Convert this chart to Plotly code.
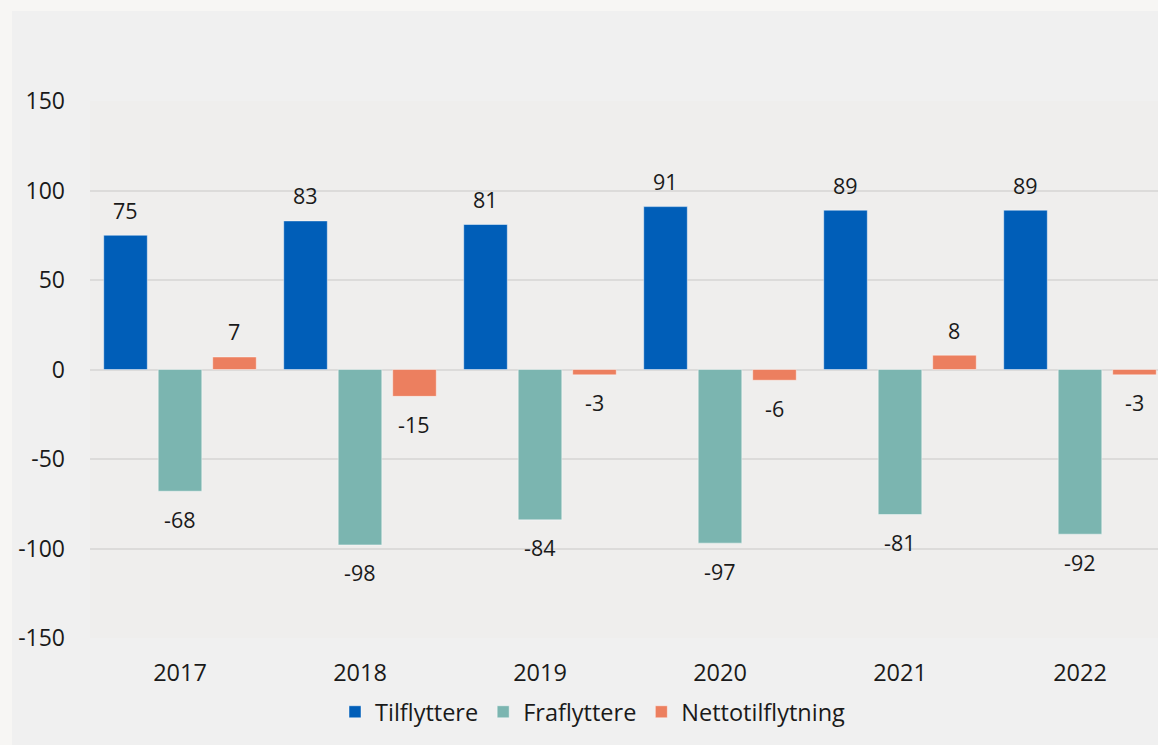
import plotly.graph_objects as go

years = ["2017", "2018", "2019", "2020", "2021", "2022"]
tilflyttere = [75, 83, 81, 91, 89, 89]
fraflyttere = [-68, -98, -84, -97, -81, -92]
netto = [7, -15, -3, -6, 8, -3]
series_names = ["Tilflyttere", "Fraflyttere", "Nettotilflytning"]
colors = ["#005EB8", "#7BB5B0", "#EC7F5F"]
y_ticks = [-150, -100, -50, 0, 50, 100, 150]
y_ticktext = ["-150", "-100", "-50", "0", "50", "100", "150"]

W, H = 1158, 745
L, R, T, B = 90, 0, 101, 107
pw, ph = W - L - R, H - T - B
BARGAP = 0.092
FONT = "Open Sans"
TXT = "#1a1a1a"

fig = go.Figure()
all_series = [tilflyttere, fraflyttere, netto]
for name, vals, col in zip(series_names, all_series, colors):
    fig.add_trace(go.Bar(
        x=years, y=vals, name=name,
        marker=dict(color=col, line=dict(color="rgba(255,255,255,0.45)", width=1)),
    ))

# value labels
slot = (1 - BARGAP) / 3
annotations = []
for k, vals in enumerate(all_series):
    for i, v in enumerate(vals):
        annotations.append(dict(
            x=i + (k - 1) * slot, y=v, xref="x", yref="y",
            text=str(v), showarrow=False,
            xanchor="center", yanchor="middle",
            yshift=25 if v >= 0 else -28,
            font=dict(family=FONT, size=21.5, color=TXT),
        ))

def px_x(p):
    return (p - L) / pw

def px_y(p):
    return (H - B - p) / ph

shapes = [
    dict(type="rect", xref="paper", yref="paper",
         x0=px_x(12), x1=px_x(W + 5), y0=px_y(H + 5), y1=px_y(11),
         fillcolor="#F0F0F0", line=dict(width=0), layer="below"),
    dict(type="rect", xref="paper", yref="paper",
         x0=0, x1=px_x(W + 5), y0=0, y1=1,
         fillcolor="#EFEEED", line=dict(width=0), layer="below"),
]

fig.update_layout(
    width=W, height=H,
    margin=dict(l=L, r=R, t=T, b=B),
    paper_bgcolor="#F7F6F4",
    plot_bgcolor="rgba(0,0,0,0)",
    barmode="group", bargap=BARGAP, bargroupgap=0.2,
    font=dict(family=FONT, size=23, color=TXT),
    showlegend=True,
    legend=dict(orientation="h", x=px_x(593), xanchor="center",
                y=px_y(712), yanchor="middle",
                font=dict(family=FONT, size=23.5, color=TXT),
                bgcolor="rgba(0,0,0,0)", itemwidth=30, tracegroupgap=0),
    annotations=annotations,
    shapes=shapes,
)
fig.update_xaxes(
    type="category", range=[-0.5, (pw / 180) - 0.5],
    showgrid=False, showline=False, ticks="",
    tickfont=dict(family=FONT, size=23.5, color=TXT),
    ticklabelstandoff=18,
)
fig.update_yaxes(
    range=[-150, 150], tickvals=y_ticks, ticktext=y_ticktext,
    showgrid=True, gridcolor="#DCDBDA", gridwidth=1.5,
    zeroline=True, zerolinecolor="#DCDBDA", zerolinewidth=2,
    showline=False, ticks="",
    tickfont=dict(family=FONT, size=23, color=TXT),
    ticklabelstandoff=24,
)

fig.write_html(
    "out.html",
    config={"displayModeBar": False},
    post_script="document.body.style.margin='0';document.body.style.background='#F7F6F4';",
)
